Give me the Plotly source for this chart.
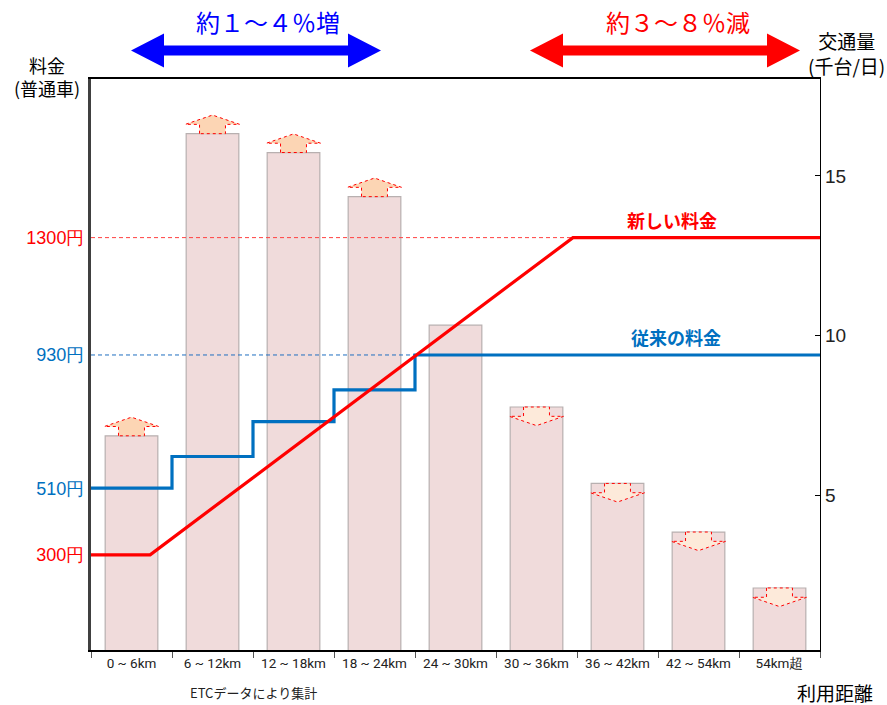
import plotly.graph_objects as go

# ---------------- data ----------------
categories = ["0 ~ 6km", "6 ~ 12km", "12 ~ 18km", "18 ~ 24km", "24 ~ 30km",
              "30 ~ 36km", "36 ~ 42km", "42 ~ 54km", "54km超"]
traffic = [6.87, 16.32, 15.73, 14.35, 10.33, 7.77, 5.38, 3.86, 2.11]   # 千台/日
change = ["up", "up", "up", "up", "none", "down", "down", "down", "down"]

old_toll_x = [-0.5, 0.5, 1.5, 2.5, 3.5, 8.5]
old_toll_y = [510, 610, 720, 820, 930, 930]
new_toll_x = [-0.5, 0.23, 5.45, 8.5]
new_toll_y = [300, 300, 1300, 1300]

price_ticks = [300, 510, 930, 1300]
price_tick_colors = ["#FF0000", "#0070C0", "#0070C0", "#FF0000"]
traffic_ticks = [5, 10, 15]

# ---------------- geometry helpers ----------------
L, R, T, B = 91, 820, 79, 650
W, H = 887, 705


def pxx(x):
    return (x - L) / (R - L)


def pxy(y):
    return (B - y) / (B - T)


TR_RANGE = [0.17, 18.03]
unit_px = (B - T) / (TR_RANGE[1] - TR_RANGE[0])  # pixels per traffic unit
BAR_W = 0.65
STEM_W = 0.32

fig = go.Figure()

fig.add_trace(go.Bar(
    x=list(range(len(categories))), y=traffic, width=BAR_W,
    marker=dict(color="#F0DBDB", line=dict(color="#B8B0B0", width=1.2)),
    yaxis="y", showlegend=False, hoverinfo="skip"))

# change arrows on top of bars
for i, (v, c) in enumerate(zip(traffic, change)):
    if c == "none":
        continue
    hw, sw = BAR_W / 2 + 0.01, STEM_W / 2
    s = 9.3 / unit_px
    if c == "up":
        xs = [i - sw, i - sw, i - hw, i, i + hw, i + sw, i + sw, i - sw]
        ys = [v, v + s, v + s, v + 2 * s, v + s, v + s, v, v]
        fill = "#FCD5B4"
    else:
        xs = [i - sw, i - sw, i - hw, i, i + hw, i + sw, i + sw, i - sw]
        ys = [v, v - s, v - s, v - 2 * s, v - s, v - s, v, v]
        fill = "#FDEADA"
    fig.add_trace(go.Scatter(
        x=xs, y=ys, mode="lines", fill="toself", fillcolor=fill,
        line=dict(color="#FF0000", width=1, dash="dot"),
        yaxis="y", showlegend=False, hoverinfo="skip"))

# reference dashed lines (price axis)
fig.add_trace(go.Scatter(
    x=[-0.5, new_toll_x[2]], y=[new_toll_y[2]] * 2, mode="lines",
    line=dict(color="#FF4040", width=1, dash="4px,3px"),
    yaxis="y2", showlegend=False, hoverinfo="skip"))
fig.add_trace(go.Scatter(
    x=[-0.5, old_toll_x[4]], y=[old_toll_y[4]] * 2, mode="lines",
    line=dict(color="#1F6FC0", width=1, dash="4px,3px"),
    yaxis="y2", showlegend=False, hoverinfo="skip"))

fig.add_trace(go.Scatter(
    x=old_toll_x, y=old_toll_y, mode="lines", line_shape="hv",
    line=dict(color="#0070C0", width=3.2),
    yaxis="y2", showlegend=False, hoverinfo="skip"))
fig.add_trace(go.Scatter(
    x=new_toll_x, y=new_toll_y, mode="lines",
    line=dict(color="#FF0000", width=3.2),
    yaxis="y2", showlegend=False, hoverinfo="skip"))

# ---------------- axes ----------------
fig.update_layout(
    width=W, height=H,
    margin=dict(l=L, r=W - R, t=T, b=H - B, pad=0),
    plot_bgcolor="white", paper_bgcolor="white",
    font=dict(family="Noto Sans CJK JP", color="black"),
    xaxis=dict(
        range=[-0.5, len(categories) - 0.5],
        tickmode="array", tickvals=list(range(len(categories))), ticktext=categories,
        ticks="", showgrid=False, zeroline=False,
        showline=True, linecolor="black", linewidth=1.5, mirror=True,
        tickfont=dict(family="Liberation Sans Narrow, Roboto", size=13.5, color="#222"),
        minor=dict(tickmode="array", tickvals=[i - 0.5 for i in range(len(categories) + 1)],
                   ticks="outside", ticklen=6, tickcolor="#555", showgrid=False),
    ),
    yaxis=dict(
        side="right", range=TR_RANGE, tickmode="array", tickvals=traffic_ticks,
        ticks="inside", ticklen=5, tickcolor="black", showgrid=False, zeroline=False,
        showline=True, linecolor="black", linewidth=1.2,
        tickfont=dict(family="Liberation Sans, Arial", size=19, color="#222"),
    ),
    yaxis2=dict(
        overlaying="y", side="left", range=[0, 1800], tickmode="array",
        tickvals=price_ticks,
        ticktext=[f"<span style='color:{c}'>{v}円</span>" for v, c in zip(price_ticks, price_tick_colors)],
        ticks="", showgrid=False, zeroline=False,
        showline=True, linecolor="#404040", linewidth=3,
        tickfont=dict(family="Liberation Sans, Arial", size=18),
    ),
)

# ---------------- decorations ----------------
def double_arrow(xl, xr, yc, hl, hh, st, color):
    pts = [(xl, yc), (xl + hl, yc - hh), (xl + hl, yc - st), (xr - hl, yc - st),
           (xr - hl, yc - hh), (xr, yc), (xr - hl, yc + hh), (xr - hl, yc + st),
           (xl + hl, yc + st), (xl + hl, yc + hh)]
    path = "M " + " L ".join(f"{pxx(x):.5f},{pxy(y):.5f}" for x, y in pts) + " Z"
    fig.add_shape(type="path", path=path, xref="paper", yref="paper",
                  fillcolor=color, line=dict(width=0), layer="above")


double_arrow(131, 381, 50.5, 33, 17, 5, "#0000FF")
double_arrow(530, 800, 50.5, 33, 17, 5, "#FF0000")


def note(text, x, y, size, color="black", bold=False, family="Noto Sans CJK JP",
         xanchor="center", yanchor="middle"):
    if bold:
        text = f"<b>{text}</b>"
    fig.add_annotation(text=text, x=pxx(x), y=pxy(y), xref="paper", yref="paper",
                       showarrow=False, xanchor=xanchor, yanchor=yanchor,
                       font=dict(size=size, color=color, family=family))


note("約１～４％増", 268, 21.5, 24, "#0000FF")
note("約３～８％減", 678, 21.5, 24, "#FF0000")
note("料金<br>(普通車)", 47, 76.5, 18)
note("交通量<br>(千台/日)", 846, 52.5, 19)
note("利用距離", 835, 692, 19)
note("新しい料金", 671.5, 220, 18, "#FF0000", bold=True)
note("従来の料金", 675.5, 336.5, 18, "#0070C0", bold=True)
note("ETCデータにより集計", 188, 704, 13, "#222", xanchor="left", yanchor="bottom")

fig.write_html("out.html")
